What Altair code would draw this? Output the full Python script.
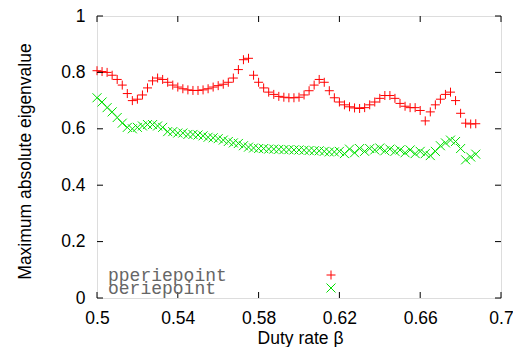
import altair as alt
import pandas as pd

duty = [0.5, 0.5025, 0.505, 0.5075, 0.51, 0.5125, 0.515, 0.5175, 0.52, 0.5225,
        0.525, 0.5275, 0.53, 0.5325, 0.535, 0.5375, 0.54, 0.5425, 0.545, 0.5475,
        0.55, 0.5525, 0.555, 0.5575, 0.56, 0.5625, 0.565, 0.5675, 0.57, 0.5725,
        0.575, 0.5775, 0.58, 0.5825, 0.585, 0.5875, 0.59, 0.5925, 0.595, 0.5975,
        0.6, 0.6025, 0.605, 0.6075, 0.61, 0.6125, 0.615, 0.6175, 0.62, 0.6225,
        0.625, 0.6275, 0.63, 0.6325, 0.635, 0.6375, 0.64, 0.6425, 0.645, 0.6475,
        0.65, 0.6525, 0.655, 0.6575, 0.66, 0.6625, 0.665, 0.6675, 0.67, 0.6725,
        0.675, 0.6775, 0.68, 0.6825, 0.685, 0.6875]

pperiepoint = [0.806, 0.803, 0.800, 0.790, 0.775, 0.755, 0.725, 0.700, 0.705, 0.720,
               0.745, 0.770, 0.780, 0.775, 0.765, 0.755, 0.748, 0.742, 0.738, 0.736,
               0.736, 0.738, 0.742, 0.748, 0.753, 0.758, 0.765, 0.780, 0.810, 0.845,
               0.850, 0.790, 0.765, 0.745, 0.730, 0.722, 0.715, 0.712, 0.710, 0.710,
               0.712, 0.720, 0.735, 0.755, 0.775, 0.765, 0.735, 0.710, 0.695, 0.685,
               0.678, 0.674, 0.672, 0.675, 0.685, 0.695, 0.708, 0.718, 0.718, 0.708,
               0.690, 0.680, 0.675, 0.675, 0.665, 0.628, 0.660, 0.685, 0.705, 0.722,
               0.730, 0.700, 0.655, 0.620, 0.617, 0.618]

oeriepoint = [0.710, 0.695, 0.675, 0.660, 0.640, 0.620, 0.605, 0.600, 0.605, 0.610,
              0.615, 0.615, 0.610, 0.605, 0.590, 0.590, 0.585, 0.585, 0.580, 0.580,
              0.578, 0.575, 0.570, 0.568, 0.565, 0.560, 0.555, 0.550, 0.548, 0.540,
              0.535, 0.532, 0.530, 0.530, 0.528, 0.528, 0.527, 0.526, 0.526, 0.525,
              0.525, 0.524, 0.523, 0.522, 0.522, 0.520, 0.518, 0.518, 0.520, 0.512,
              0.528, 0.515, 0.530, 0.520, 0.530, 0.525, 0.532, 0.522, 0.528, 0.520,
              0.525, 0.515, 0.525, 0.512, 0.520, 0.512, 0.505, 0.520, 0.540, 0.550,
              0.560, 0.555, 0.530, 0.490, 0.500, 0.510]

x_ticks = [0.5, 0.54, 0.58, 0.62, 0.66, 0.7]
y_ticks = [0, 0.2, 0.4, 0.6, 0.8, 1]
legend_labels = ["pperiepoint", "oeriepoint"]

W, H = 404, 282
PLUS = "M-1,0H1M0,-1V1"
CROSS = "M-1,-1L1,1M-1,1L1,-1"
RED = "#ff0000"
GREEN = "#00e000"

df = pd.DataFrame({"duty": duty, "p": pperiepoint, "o": oeriepoint})
xt = pd.DataFrame({"v": x_ticks})
yt = pd.DataFrame({"v": y_ticks})

xscale = alt.Scale(domain=[0.5, 0.7], nice=False, zero=False)
yscale = alt.Scale(domain=[0, 1], nice=False, zero=False)

xaxis = alt.Axis(values=x_ticks, format="~g", ticks=False, domain=False, grid=False,
                 labelFont="Liberation Sans", labelFontSize=17.5, labelColor="black",
                 labelBaseline="alphabetic", labelPadding=25, labelFlush=False,
                 title="Duty rate β", titleFont="Liberation Sans", titleFontSize=17.5,
                 titleFontWeight="normal", titleColor="black", titleBaseline="alphabetic",
                 titleX=W / 2 + 1, titleY=45, titleAnchor="middle")
yaxis = alt.Axis(values=y_ticks, format="~g", ticks=False, domain=False, grid=False,
                 labelFont="Liberation Sans", labelFontSize=17.5, labelColor="black",
                 labelPadding=12, labelFlush=False,
                 title="Maximum absolute eigenvalue", titleFont="Liberation Sans",
                 titleFontSize=17.5, titleFontWeight="normal", titleColor="black",
                 titleAngle=-90, titleBaseline="alphabetic", titleAlign="center",
                 titleX=-67, titleY=145)

base = alt.Chart(df)
red = base.mark_point(shape=PLUS, filled=False, color=RED, size=81, strokeWidth=1, opacity=1).encode(
    x=alt.X("duty:Q", scale=xscale, axis=xaxis),
    y=alt.Y("p:Q", scale=yscale, axis=yaxis),
)
green = base.mark_point(shape=CROSS, filled=False, color=GREEN, size=81, strokeWidth=1, opacity=1).encode(
    x=alt.X("duty:Q", scale=xscale),
    y=alt.Y("o:Q", scale=yscale),
)

tb = alt.Chart(xt).mark_rule(color="black", strokeWidth=1).encode(
    x=alt.X("v:Q", scale=xscale), y=alt.value(H), y2=alt.value(H - 6))
tt = alt.Chart(xt).mark_rule(color="black", strokeWidth=1).encode(
    x=alt.X("v:Q", scale=xscale), y=alt.value(0), y2=alt.value(6))
tl = alt.Chart(yt).mark_rule(color="black", strokeWidth=1).encode(
    y=alt.Y("v:Q", scale=yscale), x=alt.value(0), x2=alt.value(6))
tr = alt.Chart(yt).mark_rule(color="black", strokeWidth=1).encode(
    y=alt.Y("v:Q", scale=yscale), x=alt.value(W), x2=alt.value(W - 6))

leg_text1 = alt.Chart(pd.DataFrame({"t": [legend_labels[0]]})).mark_text(
    font="Liberation Mono", fontSize=18, color="#666666", align="left", baseline="alphabetic"
).encode(text="t:N", x=alt.value(11), y=alt.value(H - 17.5))
leg_text2 = alt.Chart(pd.DataFrame({"t": [legend_labels[1]]})).mark_text(
    font="Liberation Mono", fontSize=18, color="#666666", align="left", baseline="alphabetic"
).encode(text="t:N", x=alt.value(11), y=alt.value(H - 4))
leg_p1 = alt.Chart(pd.DataFrame({"t": [legend_labels[0]]})).mark_point(
    shape=PLUS, filled=False, color=RED, size=81, strokeWidth=1, opacity=1
).encode(x=alt.value(234), y=alt.value(H - 23))
leg_p2 = alt.Chart(pd.DataFrame({"t": [legend_labels[1]]})).mark_point(
    shape=CROSS, filled=False, color=GREEN, size=81, strokeWidth=1, opacity=1
).encode(x=alt.value(234), y=alt.value(H - 10))

chart = alt.layer(red, green, tb, tt, tl, tr, leg_text1, leg_text2, leg_p1, leg_p2).properties(
    width=W, height=H,
    autosize=alt.AutoSizeParams(type="none"),
    padding={"left": 89, "top": 8, "right": 12, "bottom": 49},
).configure_view(stroke="black", strokeWidth=1).configure(background="white")

chart.save("out.html", embed_options={"renderer": "svg", "actions": False})
